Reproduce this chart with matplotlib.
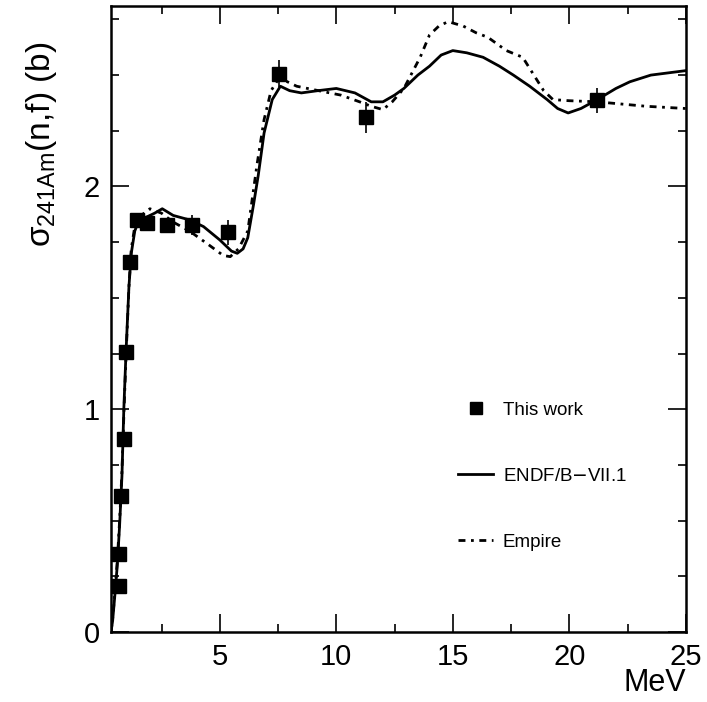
import numpy as np
import matplotlib
matplotlib.use("Agg")
from matplotlib import pyplot as plt
from matplotlib.ticker import MultipleLocator
from matplotlib.lines import Line2D

plt.rcParams['font.family'] = ['Liberation Sans', 'DejaVu Sans']

# measured points (This work)
e_meas = [0.69, 0.69, 0.77, 0.90, 0.99, 1.16, 1.46, 1.89, 2.75, 3.82, 5.36, 7.55, 11.29, 21.2]
xs_meas = [0.206, 0.35, 0.61, 0.865, 1.256, 1.66, 1.85, 1.834, 1.825, 1.825, 1.794, 2.507, 2.31, 2.386]
xs_err = [0.01, 0.01, 0.015, 0.02, 0.02, 0.02, 0.02, 0.02, 0.03, 0.045, 0.055, 0.06, 0.07, 0.055]

# ENDF/B-VII.1 evaluation
e_endf = [0.33, 0.4, 0.5, 0.6, 0.7, 0.8, 0.88, 0.98, 1.1, 1.2, 1.35, 1.5, 1.8, 2.2, 2.53, 3.0,
          3.7, 4.3, 5.0, 5.5, 5.75, 6.0, 6.2, 6.45, 6.65, 6.9, 7.25, 7.6, 8.0, 8.5, 9.2, 10.0,
          10.8, 11.5, 12.0, 12.5, 12.9, 13.5, 14.0, 14.5, 15.0, 15.6, 16.3, 17.0, 17.6, 18.3,
          19.05, 19.5, 19.95, 20.5, 21.2, 22.0, 22.6, 23.5, 25.0]
xs_endf = [0.0, 0.05, 0.17, 0.3, 0.48, 0.7, 1.0, 1.27, 1.55, 1.7, 1.8, 1.84, 1.86, 1.88, 1.90, 1.87,
           1.85, 1.82, 1.76, 1.71, 1.70, 1.72, 1.77, 1.92, 2.05, 2.24, 2.39, 2.45, 2.43, 2.42, 2.43, 2.44,
           2.42, 2.38, 2.38, 2.41, 2.44, 2.50, 2.54, 2.59, 2.61, 2.60, 2.58, 2.54, 2.50, 2.45,
           2.39, 2.35, 2.33, 2.35, 2.39, 2.44, 2.47, 2.50, 2.52]

# Empire calculation
e_emp = [0.33, 0.4, 0.5, 0.6, 0.7, 0.8, 0.9, 1.0, 1.1, 1.2, 1.35, 1.5, 2.0, 2.5, 3.0, 3.7,
         4.5, 5.15, 5.45, 5.8, 6.2, 6.4, 6.6, 6.9, 7.2, 7.5, 7.7, 8.3, 9.0, 10.2, 11.0, 11.5,
         12.0, 12.4, 12.9, 13.3, 13.6, 14.0, 14.4, 14.8, 15.45, 16.0, 16.5, 17.3, 18.0, 18.3,
         18.6, 18.9, 19.3, 20.0, 21.2, 23.3, 25.0]
xs_emp = [0.0, 0.06, 0.18, 0.32, 0.5, 0.72, 1.03, 1.3, 1.55, 1.72, 1.82, 1.86, 1.90, 1.88, 1.84, 1.80,
          1.74, 1.69, 1.685, 1.72, 1.80, 1.95, 2.10, 2.30, 2.43, 2.48, 2.48, 2.45, 2.435, 2.41, 2.38, 2.36,
          2.345, 2.38, 2.44, 2.52, 2.58, 2.68, 2.72, 2.74, 2.72, 2.69, 2.67, 2.61, 2.58, 2.53,
          2.48, 2.43, 2.39, 2.385, 2.38, 2.36, 2.35]

fig = plt.figure(figsize=(7.07, 7.02), dpi=100)
ax = fig.add_axes([0.157, 0.0997, 0.813, 0.8917])

l_endf, = ax.plot(e_endf, xs_endf, '-', c='k', lw=2.0)
l_emp, = ax.plot(e_emp, xs_emp, c='k', lw=2.0, linestyle=(0, (2.5, 2.0, 1.0, 2.0)))
ax.errorbar(e_meas, xs_meas, yerr=xs_err, fmt='s', c='k', ms=10, elinewidth=1.2, capsize=0)

ax.set_xlim(0.33, 25)
ax.set_ylim(0, 2.81)
ax.xaxis.set_major_locator(MultipleLocator(5))
ax.xaxis.set_minor_locator(MultipleLocator(2.5))
ax.yaxis.set_major_locator(MultipleLocator(1))
ax.yaxis.set_minor_locator(MultipleLocator(0.25))
ax.tick_params(which='both', direction='in', top=True, right=True, labelsize=21, width=1.2)
ax.tick_params(which='major', length=13, pad=8)
ax.tick_params(which='minor', length=6)
for s in ax.spines.values():
    s.set_linewidth(1.8)

ax.text(1.0, -0.082, 'MeV', transform=ax.transAxes, ha='right', va='center', fontsize=22)
fig.text(0.058, 0.94, r'$\mathregular{\sigma_{241Am}}$(n,f) (b)', rotation=90, ha='center', va='top',
         fontsize=24)

sq = Line2D([], [], ls='none', marker='s', c='k', ms=9)
ax.legend([sq, l_endf, l_emp], ['This work', 'ENDF/B$-$VII.1', 'Empire'], loc='upper left',
          bbox_to_anchor=(0.587, 0.383), frameon=False, fontsize=13.5, labelspacing=2.6,
          handlelength=1.9, handletextpad=0.5, borderpad=0)

fig.savefig('out.png', dpi=100)
